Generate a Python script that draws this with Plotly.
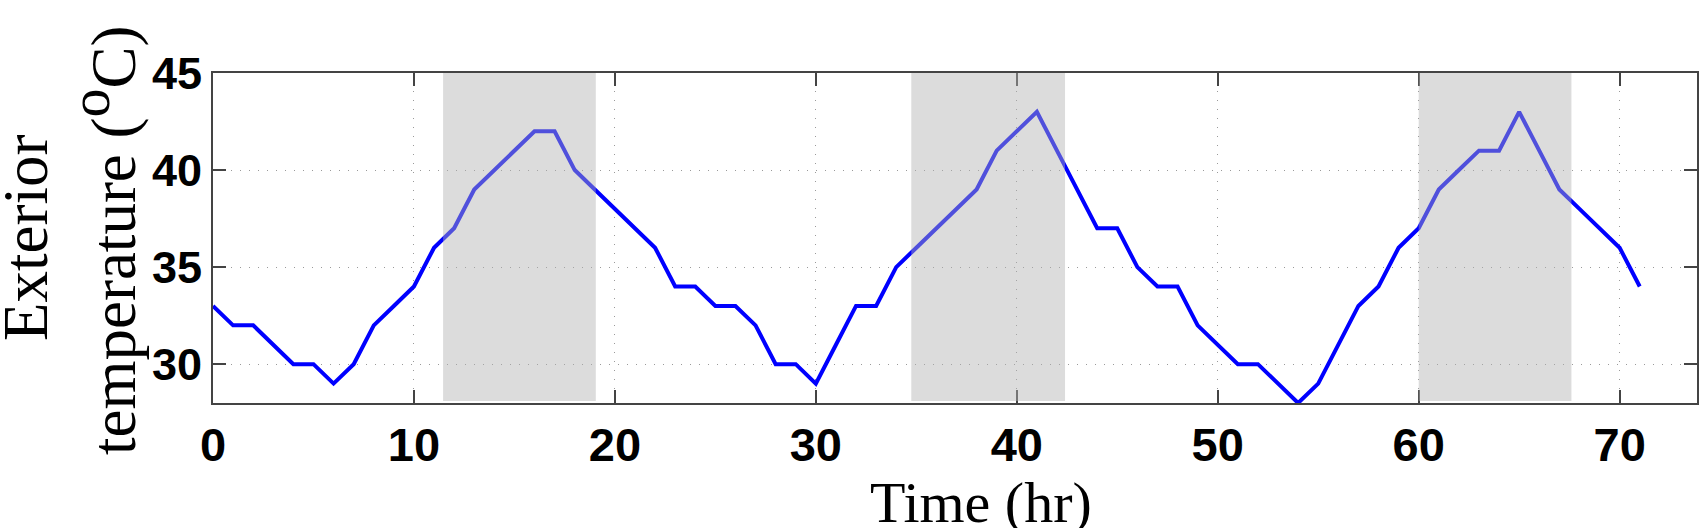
import plotly.graph_objects as go

hours = list(range(72))
temps = [33, 32, 32, 31, 30, 30, 29, 30, 32, 33,
         34, 36, 37, 39, 40, 41, 42, 42, 40, 39,
         38, 37, 36, 34, 34, 33, 33, 32, 30, 30,
         29, 31, 33, 33, 35, 36, 37, 38, 39, 41,
         42, 43, 41, 39, 37, 37, 35, 34, 34, 32,
         31, 30, 30, 29, 28, 29, 31, 33, 34, 36,
         37, 39, 40, 41, 41, 43, 41, 39, 38, 37,
         36, 34]
shade_start = [11.45, 34.75, 60.0]
shade_end = [19.05, 42.4, 67.6]
x_ticks = [0, 10, 20, 30, 40, 50, 60, 70]
y_ticks = [30, 35, 40, 45]
x_title = "Time (hr)"
y_title_lines = ["Exterior",
                 "temperature (<sup><span style='font-size:58px'>o</span></sup>C)"]

W, H = 1700, 528
L, R, T, B = 213, 3, 73, 125
pw, ph = W - L - R, H - T - B

fig = go.Figure()
fig.add_trace(go.Scatter(x=hours, y=temps, mode="lines",
                         line=dict(color="#0000ff", width=4), showlegend=False))

for s, e in zip(shade_start, shade_end):
    fig.add_shape(type="rect", xref="x", yref="y", x0=s, x1=e, y0=28.1, y1=45,
                  fillcolor="rgba(177,177,177,0.45)", line=dict(width=0), layer="above")

axis_common = dict(
    showline=True, linecolor="#444444", linewidth=2, mirror="ticks",
    ticks="inside", ticklen=13, tickwidth=2, tickcolor="#444444",
    showgrid=True, gridcolor="#9a9a9a", gridwidth=1, griddash="1px,8px",
    zeroline=False,
)

fig.update_xaxes(range=[0, 73.85], tickvals=x_ticks, **axis_common,
                 tickfont=dict(family="Liberation Sans, Arial", size=47, color="black", weight="bold"))
fig.update_yaxes(range=[28, 45], tickvals=y_ticks, **axis_common,
                 tickfont=dict(family="Liberation Sans, Arial", size=45, color="black", weight="bold"))

serif = dict(family="Liberation Serif, Times New Roman", color="black")

def px_x(p):
    return (p - L) / pw

def px_y(p):
    return 1 - (p - T) / ph

fig.add_annotation(text=x_title, xref="paper", yref="paper",
                   x=px_x(981), y=px_y(502), xanchor="center", yanchor="middle",
                   showarrow=False, font=dict(size=58, **serif))
fig.add_annotation(text=y_title_lines[0], xref="paper", yref="paper",
                   x=px_x(26), y=px_y(238), xanchor="center", yanchor="middle",
                   textangle=-90, showarrow=False, font=dict(size=63, **serif))
fig.add_annotation(text=y_title_lines[1], xref="paper", yref="paper",
                   x=px_x(103), y=px_y(240), xanchor="center", yanchor="middle",
                   textangle=-90, showarrow=False, font=dict(size=63, **serif))

fig.update_layout(
    width=W, height=H,
    margin=dict(l=L, r=R, t=T, b=B, autoexpand=False),
    plot_bgcolor="white", paper_bgcolor="white",
)

fig.write_html("out.html")
